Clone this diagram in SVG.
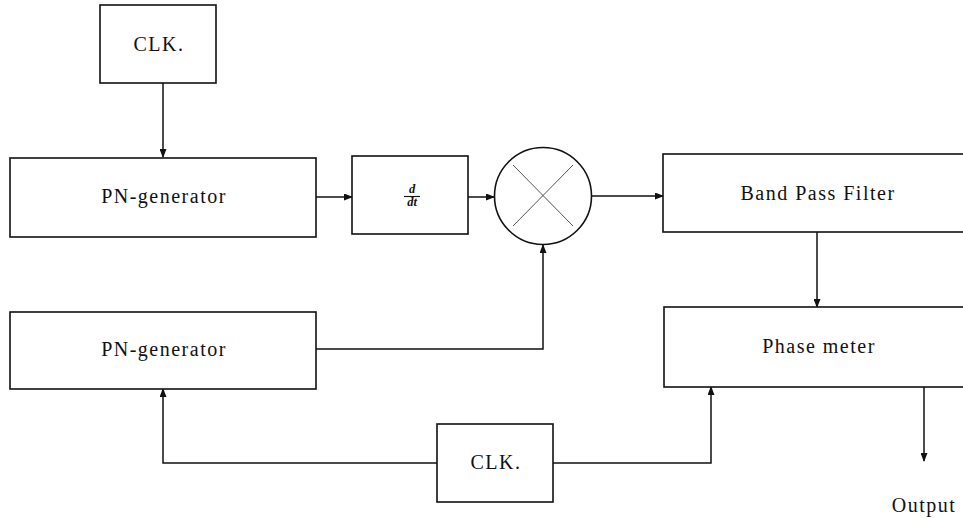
<svg xmlns="http://www.w3.org/2000/svg" width="963" height="519" viewBox="0 0 963 519">
  <defs>
    <marker id="arrow" markerUnits="userSpaceOnUse" markerWidth="9" markerHeight="7" refX="8" refY="3.5" orient="auto">
      <path d="M0,0 L9,3.5 L0,7 z" fill="#111"/>
    </marker>
  </defs>
  <style>
    .box { fill: #fff; stroke: #111; stroke-width: 1.6; }
    .lbl { font-family: "Liberation Serif", "DejaVu Serif", serif; font-size: 20px; letter-spacing: 1.5px; fill: #111; text-anchor: middle; }
    .frac { font-family: "Liberation Serif", "DejaVu Serif", serif; font-size: 12.5px; font-weight: bold; font-style: italic; fill: #111; text-anchor: middle; }
    .wire { fill: none; stroke: #111; stroke-width: 1.5; }
    .cross { stroke: #555; stroke-width: 1; }
  </style>
  <rect width="963" height="519" fill="#fff"/>

  <g id="connectors">
    <path class="wire" d="M163,83 V157" marker-end="url(#arrow)"/>
    <path class="wire" d="M316,197 H352" marker-end="url(#arrow)"/>
    <path class="wire" d="M468,197 H494" marker-end="url(#arrow)"/>
    <path class="wire" d="M591,196 H663" marker-end="url(#arrow)"/>
    <path class="wire" d="M316,349 H543 V245" marker-end="url(#arrow)"/>
    <path class="wire" d="M817,232 V307" marker-end="url(#arrow)"/>
    <path class="wire" d="M437,463 H163 V389" marker-end="url(#arrow)"/>
    <path class="wire" d="M553,463 H711 V387" marker-end="url(#arrow)"/>
    <path class="wire" d="M924,387 V461" marker-end="url(#arrow)"/>
  </g>

  <g id="clk-top">
    <rect class="box" x="100" y="5" width="116" height="78"/>
    <text class="lbl" x="159" y="51">CLK.</text>
  </g>

  <g id="pn-generator-top">
    <rect class="box" x="10" y="158" width="306" height="79"/>
    <text class="lbl" x="164" y="203">PN-generator</text>
  </g>

  <g id="differentiator">
    <rect class="box" x="352" y="156" width="116" height="78"/>
    <text class="frac" x="412" y="193">d</text>
    <line x1="404" y1="196.5" x2="420" y2="196.5" stroke="#111" stroke-width="1.1"/>
    <text class="frac" x="412" y="206">dt</text>
  </g>

  <g id="mixer">
    <circle cx="543" cy="196" r="48.5" fill="#fff" stroke="#111" stroke-width="1.6"/>
    <line class="cross" x1="513" y1="165" x2="573" y2="226"/>
    <line class="cross" x1="573" y1="165" x2="513" y2="226"/>
  </g>

  <g id="band-pass-filter">
    <rect class="box" x="663" y="154" width="320" height="78"/>
    <text class="lbl" x="818" y="200">Band Pass Filter</text>
  </g>

  <g id="pn-generator-bottom">
    <rect class="box" x="10" y="312" width="306" height="77"/>
    <text class="lbl" x="164" y="356">PN-generator</text>
  </g>

  <g id="phase-meter">
    <rect class="box" x="664" y="307" width="320" height="80"/>
    <text class="lbl" x="819" y="353">Phase meter</text>
  </g>

  <g id="clk-bottom">
    <rect class="box" x="437" y="424" width="116" height="78"/>
    <text class="lbl" x="496" y="469">CLK.</text>
  </g>

  <g id="output">
    <text class="lbl" x="924" y="512">Output</text>
  </g>
</svg>
